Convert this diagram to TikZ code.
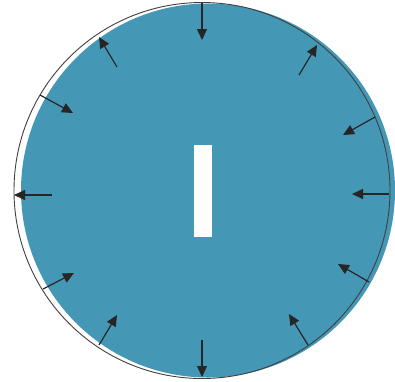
\documentclass[tikz,border=0pt]{standalone}
\usepackage{xcolor}
\usepackage{tikz}
\usetikzlibrary{arrows.meta}

\definecolor{discblue}{RGB}{69,151,182}

\begin{document}
\begin{tikzpicture}[
  x=1pt, y=-1pt,
  disc/.style={fill=discblue, draw=none},
  rim/.style={draw=black!75, line width=0.9pt},
  arr/.style={-{Triangle[length=11pt, width=10pt]}, line width=1.2pt, black!85},
  bar/.style={fill=white, draw=none}
]
\useasboundingbox (0,0) rectangle (395,381);
% filled disc, shifted slightly right of the rim
\fill[disc] (208,190.5) circle (187);
\draw[rim] (202,190.5) circle (188);
% centre bar
\fill[bar] (194,145) rectangle (212,237);
% arrows round the rim (tail/tip)
\foreach \tx/\ty/\hx/\hy in {
  202/3/202/40, 299/75/317/45, 375/117/343/135, 389/194/352/194,
  369/282/338/264, 308/345/289/314, 202/340/202/377, 99/345/117/315,
  43/289/74/273, 52/195/14/195, 40/95/73/113, 117/67/99/37}
  \draw[arr] (\tx,\ty) -- (\hx,\hy);
\end{tikzpicture}
\end{document}
